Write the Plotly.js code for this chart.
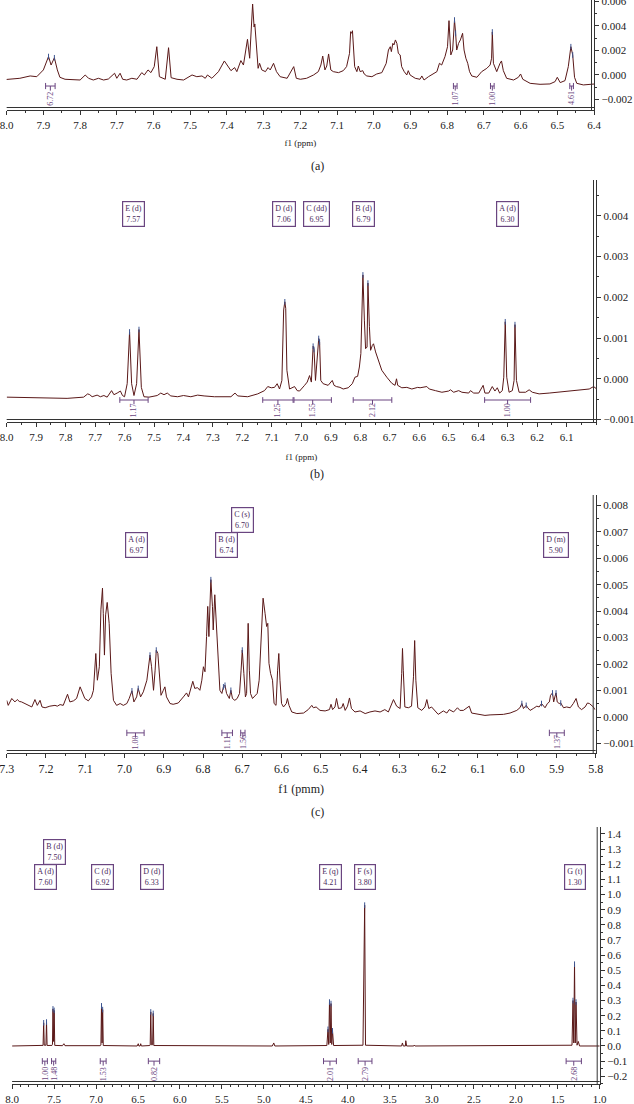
<!DOCTYPE html>
<html><head><meta charset="utf-8">
<script src="https://cdn.plot.ly/plotly-3.0.1.min.js"></script>
<style>html,body{margin:0;padding:0;background:#fff;}#chart{width:634px;height:1104px;}</style>
</head><body><div id="chart"></div>
<script>
// ---------- Panel (a) spectrum ----------
const ppmA=[8.018,7.964,7.936,7.918,7.900,7.886,7.879,7.870,7.862,7.855,7.841,7.800,7.786,7.777,7.764,7.750,7.736,7.723,7.706,7.700,7.691,7.684,7.673,7.659,7.645,7.632,7.625,7.615,7.607,7.598,7.591,7.584,7.568,7.559,7.552,7.536,7.518,7.495,7.482,7.468,7.459,7.453,7.441,7.423,7.407,7.400,7.389,7.379,7.373,7.362,7.355,7.344,7.338,7.330,7.326,7.324,7.320,7.315,7.311,7.305,7.295,7.288,7.282,7.273,7.265,7.255,7.236,7.218,7.211,7.200,7.183,7.164,7.151,7.144,7.139,7.133,7.128,7.123,7.117,7.110,7.096,7.083,7.074,7.066,7.063,7.060,7.058,7.055,7.052,7.046,7.042,7.037,7.030,7.026,7.019,7.005,6.992,6.978,6.966,6.960,6.955,6.952,6.948,6.945,6.941,6.937,6.933,6.928,6.924,6.917,6.910,6.906,6.901,6.887,6.874,6.869,6.863,6.851,6.842,6.828,6.821,6.815,6.806,6.799,6.795,6.790,6.785,6.780,6.777,6.774,6.769,6.764,6.758,6.754,6.749,6.744,6.739,6.733,6.719,6.706,6.692,6.683,6.679,6.677,6.674,6.665,6.656,6.652,6.647,6.638,6.619,6.606,6.600,6.594,6.574,6.547,6.520,6.506,6.500,6.492,6.479,6.470,6.463,6.458,6.453,6.447,6.429,6.415,6.397];
const intA=[-0.00041,-0.00027,-0.00008,-0.00014,0.00041,0.0015,0.00081,0.0014,0.00041,-0.00019,-0.00035,-0.00041,0.0,-0.00027,-0.00041,-0.00027,-0.00041,-0.00033,0.00014,-0.00027,0.00014,-0.00035,-0.00041,-0.00027,-0.00035,0.00019,0.0,0.00041,0.00019,0.00068,0.0023,-0.00014,-0.00035,0.00222,-0.00022,-0.00035,-0.00041,0.0,-0.00014,-0.00008,-0.00027,0.0,-0.00027,0.00027,0.00114,0.00081,0.00035,0.0006,0.00027,0.00117,0.00081,0.0029,0.00136,0.00577,0.0039,0.00415,0.00257,0.00054,0.00095,0.00041,0.00027,0.0006,0.00041,0.00095,0.00027,-0.00014,-0.00027,0.00068,-0.00027,-0.00035,-0.00027,0.0,0.00027,0.00081,0.00154,0.00041,0.00073,0.00171,0.00041,0.00027,0.00019,0.00035,0.00068,0.00176,0.00352,0.00339,0.0036,0.0023,0.00068,0.00027,0.00073,0.00027,0.00035,0.00008,-0.00008,-0.00014,0.00008,0.00019,0.00095,0.00203,0.0023,0.0019,0.00257,0.00244,0.00285,0.00257,0.00176,0.00163,0.00068,0.00027,0.0,0.00035,0.0,-0.00027,-0.00035,-0.00008,-0.00041,-0.00014,0.0,0.00027,0.00095,0.00081,0.00149,0.0023,0.00442,0.00163,0.00203,0.00447,0.00339,0.00203,0.00257,0.00285,0.00339,0.00203,0.00136,0.00095,0.00027,-0.00008,-0.00019,0.00027,0.00054,0.00081,0.00136,0.0035,0.00095,0.00027,0.00095,0.00114,0.00035,-0.00027,-0.00041,-0.00019,0.00008,-0.00035,-0.00068,-0.00076,-0.00073,-0.00054,-0.00019,-0.00062,-0.00046,0.00068,0.0023,0.00163,-0.00019,-0.00068,-0.00081,-0.00076,-0.00073];
const pickA_ppm=[7.886,7.870,6.780,6.777,6.677,6.463,6.458];
const pickA_top=[0.0015,0.0014,0.00447,0.00339,0.0035,0.0023,0.00163];
const integA_from=[7.894,6.783,6.682,6.466];
const integA_to=[7.868,6.773,6.672,6.456];
const integA_val=['6.72','1.07','1.00','4.61'];

// ---------- Panel (b) spectrum ----------
const ppmB=[8.000,7.909,7.795,7.739,7.725,7.718,7.710,7.693,7.682,7.670,7.659,7.644,7.636,7.625,7.614,7.607,7.600,7.591,7.583,7.576,7.568,7.559,7.551,7.543,7.534,7.517,7.489,7.477,7.466,7.455,7.443,7.420,7.400,7.375,7.352,7.330,7.295,7.239,7.225,7.216,7.182,7.148,7.125,7.114,7.102,7.091,7.082,7.074,7.066,7.060,7.056,7.053,7.049,7.040,7.028,7.023,7.014,7.006,6.989,6.980,6.972,6.966,6.960,6.957,6.952,6.945,6.941,6.938,6.934,6.926,6.909,6.895,6.889,6.881,6.869,6.858,6.841,6.827,6.818,6.809,6.803,6.798,6.793,6.791,6.786,6.782,6.777,6.774,6.769,6.765,6.759,6.755,6.748,6.739,6.727,6.710,6.693,6.682,6.677,6.673,6.659,6.642,6.625,6.605,6.597,6.574,6.566,6.545,6.523,6.500,6.494,6.483,6.466,6.455,6.432,6.426,6.415,6.398,6.383,6.377,6.364,6.352,6.343,6.335,6.327,6.318,6.313,6.308,6.303,6.295,6.284,6.278,6.275,6.270,6.261,6.239,6.227,6.216,6.193,6.159,6.136,6.091,6.057,6.023,6.008,5.994];
const intB=[-0.00045,-0.00047,-0.00048,-0.00045,-0.00037,-0.00039,-0.00044,-0.0004,-0.00044,-0.00041,-0.00045,-0.00029,-0.00039,-0.00035,-0.0003,-0.00041,-0.00044,-0.00012,0.00115,-0.00012,-0.00041,-0.00012,0.00121,-0.00021,-0.00044,-0.00045,-0.00041,-0.00035,-0.00039,-0.00035,-0.00042,-0.00044,-0.00041,-0.00044,-0.0004,-0.00042,-0.00044,-0.00044,-0.00035,-0.00042,-0.00044,-0.00037,-0.00029,-0.00019,-0.00022,-0.00021,-0.00012,-0.00025,-0.00004,0.00169,0.00189,0.00173,0.00021,-0.00025,-0.00022,-0.00019,-0.00029,-0.0003,-0.00016,-0.00008,0.00008,-0.00008,0.0008,0.00072,-0.00004,0.00062,0.00099,0.0009,-0.00004,-0.00012,-0.00016,-0.00004,-0.00016,-0.00019,-0.00021,-0.00025,-0.00022,-0.00012,0.00004,0.00006,0.00029,0.00062,0.00185,0.00255,0.00144,0.00074,0.00078,0.00235,0.00128,0.0007,0.00082,0.00086,0.00066,0.00045,0.00021,0.00004,-0.00011,-0.00016,0.0,-0.00016,-0.00022,-0.00021,-0.00025,-0.00021,-0.00022,-0.00019,-0.00025,-0.00029,-0.00033,-0.0003,-0.00027,-0.00033,-0.00029,-0.00033,-0.00035,-0.00029,-0.00035,-0.00035,-0.00016,-0.00035,-0.00035,-0.00019,-0.0003,-0.00022,-0.00035,-0.00029,0.00004,0.0014,0.00004,-0.00033,-0.00029,-0.00004,0.00133,-0.00004,-0.00033,-0.00033,-0.00027,-0.00033,-0.00037,-0.00035,-0.00033,-0.0003,-0.00027,-0.00025,-0.00019,-0.00027];
const pickB_ppm=[7.583,7.551,7.056,6.960,6.957,6.941,6.938,6.791,6.774,6.308,6.275];
const pickB_top=[0.00115,0.00121,0.00189,0.0008,0.00072,0.00099,0.0009,0.00255,0.00235,0.0014,0.00133];
const xTickB=[8.0,7.9,7.8,7.7,7.6,7.5,7.4,7.3,7.2,7.1,7.0,6.9,6.8,6.7,6.6,6.5,6.4,6.3,6.2,6.1];
const integB_from=[7.616,7.131,7.025,6.824,6.378];
const integB_to=[7.520,7.028,6.898,6.693,6.222];
const integB_val=['1.17','1.25','1.55','2.12','1.00'];
const boxB_name=['E (d)','D (d)','C (dd)','B (d)','A (d)'];
const boxB_ppm=[7.57,7.06,6.95,6.79,6.30];

// ---------- Panel (c) spectrum ----------
const ppmC=[7.300,7.296,7.287,7.279,7.273,7.268,7.262,7.253,7.245,7.236,7.228,7.222,7.215,7.210,7.202,7.190,7.177,7.171,7.164,7.156,7.145,7.139,7.130,7.122,7.113,7.107,7.101,7.092,7.084,7.079,7.073,7.069,7.064,7.060,7.056,7.054,7.051,7.048,7.044,7.039,7.034,7.028,7.020,7.011,7.003,6.994,6.988,6.981,6.976,6.969,6.965,6.959,6.952,6.943,6.938,6.935,6.931,6.926,6.922,6.919,6.915,6.912,6.907,6.901,6.897,6.893,6.884,6.876,6.863,6.850,6.842,6.837,6.831,6.826,6.821,6.814,6.808,6.803,6.799,6.795,6.791,6.788,6.785,6.781,6.780,6.776,6.774,6.770,6.767,6.763,6.760,6.757,6.752,6.748,6.744,6.740,6.733,6.729,6.725,6.719,6.713,6.707,6.703,6.700,6.696,6.692,6.689,6.685,6.682,6.679,6.674,6.668,6.662,6.657,6.652,6.647,6.642,6.638,6.635,6.632,6.628,6.623,6.619,6.614,6.610,6.607,6.604,6.600,6.595,6.588,6.585,6.581,6.574,6.561,6.544,6.532,6.523,6.519,6.512,6.502,6.489,6.478,6.474,6.470,6.464,6.460,6.455,6.447,6.443,6.438,6.432,6.427,6.422,6.413,6.400,6.387,6.375,6.362,6.349,6.337,6.328,6.322,6.315,6.307,6.298,6.294,6.292,6.290,6.286,6.277,6.269,6.264,6.261,6.258,6.253,6.243,6.235,6.230,6.225,6.218,6.209,6.201,6.188,6.179,6.173,6.162,6.152,6.146,6.137,6.129,6.122,6.116,6.107,6.095,6.082,6.069,6.052,6.035,6.018,6.001,5.993,5.988,5.984,5.977,5.973,5.967,5.959,5.950,5.944,5.938,5.929,5.923,5.918,5.915,5.910,5.907,5.904,5.901,5.898,5.893,5.889,5.882,5.874,5.865,5.857,5.850,5.844,5.836,5.827,5.821,5.816,5.810,5.806,5.802];
const intC=[0.00063,0.00044,0.0007,0.00057,0.00066,0.00059,0.00057,0.00051,0.00044,0.00038,0.00066,0.00044,0.00063,0.00038,0.00035,0.00041,0.00044,0.00041,0.00047,0.00044,0.00086,0.00057,0.00061,0.0007,0.00114,0.00095,0.0007,0.00061,0.00076,0.00101,0.0024,0.00139,0.0019,0.00405,0.00487,0.00392,0.00234,0.00386,0.00433,0.00354,0.00165,0.00063,0.00044,0.00051,0.00044,0.00051,0.0007,0.00099,0.00057,0.00076,0.00108,0.00076,0.00095,0.00139,0.00196,0.00234,0.0019,0.00101,0.00177,0.00253,0.0024,0.00177,0.00082,0.00101,0.00114,0.00076,0.00051,0.00048,0.00053,0.00076,0.00091,0.00076,0.00108,0.00135,0.00108,0.00111,0.00101,0.00139,0.0019,0.00171,0.00304,0.00418,0.00304,0.00487,0.00519,0.00418,0.00329,0.00462,0.0038,0.00278,0.00165,0.00101,0.00089,0.00114,0.0012,0.00089,0.0007,0.00101,0.0007,0.00063,0.0007,0.00089,0.00177,0.00253,0.00165,0.00076,0.00089,0.00354,0.00177,0.00089,0.0007,0.00078,0.00089,0.00139,0.00304,0.00449,0.00392,0.00342,0.00354,0.00203,0.00165,0.00139,0.00051,0.00044,0.00177,0.0024,0.00139,0.00051,0.00038,0.00051,0.0007,0.00044,0.00019,0.00013,0.00015,0.00028,0.00044,0.00035,0.00038,0.00025,0.00023,0.00028,0.00048,0.00028,0.00038,0.0007,0.00032,0.00035,0.00051,0.00025,0.00041,0.00072,0.00032,0.00019,0.00023,0.00013,0.00019,0.00023,0.00019,0.00028,0.00019,0.00038,0.00066,0.00041,0.00032,0.00165,0.00259,0.00177,0.00038,0.00035,0.00041,0.00152,0.00289,0.00139,0.00035,0.00025,0.00038,0.00066,0.00032,0.00038,0.00025,0.0001,0.00023,0.00015,0.00028,0.00019,0.00035,0.00025,0.00025,0.00032,0.00041,0.00015,0.00013,0.0001,0.00006,0.00008,0.0001,0.0001,0.00015,0.00025,0.00035,0.00051,0.00032,0.00044,0.00035,0.00025,0.00032,0.00041,0.00038,0.00051,0.00035,0.00051,0.00057,0.00082,0.00091,0.00057,0.00076,0.00091,0.00057,0.00051,0.00053,0.00035,0.00038,0.00035,0.00051,0.0007,0.00038,0.00028,0.00038,0.00053,0.00051,0.00044,0.00038,0.00028];
const pickC_ppm=[6.981,6.965,6.935,6.919,6.780,6.748,6.744,6.729,6.700,5.988,5.977,5.938,5.910,5.901,5.889];
const pickC_top=[0.00099,0.00108,0.00234,0.00253,0.00519,0.00114,0.0012,0.00101,0.00253,0.00051,0.00044,0.00051,0.00091,0.00091,0.00053];
const integC_from=[6.994,6.752,6.704,5.918];
const integC_to=[6.950,6.725,6.693,5.880];
const integC_val=['1.00','1.11','1.56','1.37'];
const boxC_name=['A (d)','B (d)','C (s)','D (m)'];
const boxC_ppm=[6.97,6.74,6.70,5.90];

// ---------- Panel (d) spectrum ----------
const ppmD=[8.00,7.70,7.64,7.631,7.624,7.617,7.597,7.590,7.583,7.525,7.519,7.513,7.506,7.499,7.492,7.40,7.383,7.37,6.95,6.942,6.935,6.928,6.921,6.914,6.51,6.497,6.49,6.475,6.468,6.46,6.36,6.355,6.348,6.341,6.326,6.319,6.312,4.90,4.883,4.87,4.25,4.237,4.228,4.219,4.210,4.201,4.192,4.183,4.17,3.82,3.80,3.79,3.36,3.35,3.34,3.315,3.31,3.30,3.215,3.21,3.20,1.33,1.318,1.309,1.300,1.291,1.282,1.27,1.255,1.24,1.00];
const intD=[0.0,0.0,0.003,0.004,0.153,0.005,0.005,0.158,0.003,0.004,0.01,0.245,0.03,0.235,0.004,0.002,0.015,0.002,0.002,0.006,0.265,0.02,0.24,0.003,0.0,0.015,0.0,0.0,0.015,0.0,0.003,0.006,0.225,0.008,0.008,0.215,0.003,0.0,0.02,0.0,0.003,0.11,0.01,0.29,0.02,0.28,0.01,0.10,0.003,0.005,0.93,0.005,0.0,0.02,0.0,0.0,0.035,0.0,0.0,0.006,0.0,0.005,0.30,0.02,0.54,0.02,0.29,0.005,0.03,0.0,0.0];
const pickD_ppm=[7.624,7.590,7.513,7.499,6.935,6.921,6.348,6.319,4.237,4.219,4.201,4.183,3.80,1.318,1.300,1.282];
const pickD_top=[0.153,0.158,0.245,0.235,0.265,0.24,0.225,0.215,0.11,0.29,0.28,0.10,0.93,0.30,0.54,0.29];
const integD_from=[7.64,7.53,6.95,6.377,4.29,3.877,1.40];
const integD_to=[7.58,7.48,6.88,6.242,4.137,3.713,1.218];
const integD_val=['1.00','1.48','1.53','0.82','2.01','2.79','2.68'];
const boxD_name=['A (d)','B (d)','C (d)','D (d)','E (q)','F (s)','G (t)'];
const boxD_ppm=[7.60,7.50,6.92,6.33,4.21,3.80,1.30];

// ---------- styling / layout helpers ----------
const FONT='"Liberation Serif","DejaVu Serif",serif';
const LINE='#5a1818';
const PURPLE='#6a4580';
const PICK='#3d5590';
const AX='#333333';
const W=634,H=1104;
const fx=p=>p/W;
const fy=p=>1-p/H;

function spectrum(x,y,xa,ya){
  return {x:x,y:y,xaxis:xa,yaxis:ya,type:'scatter',mode:'lines',line:{color:LINE,width:1},hoverinfo:'skip',showlegend:false};
}
function picks(x,y,xa,ya){
  return {x:x,y:y,xaxis:xa,yaxis:ya,type:'scatter',mode:'markers',hoverinfo:'skip',showlegend:false,
    marker:{symbol:'line-ns',size:4,line:{color:PICK,width:1}}};
}
function brackets(from,to,yb,cap,xa,ya){
  const xs=[],ys=[];
  for(let i=0;i<from.length;i++){
    const m=(from[i]+to[i])/2;
    xs.push(from[i],from[i],null,to[i],to[i],null,from[i],to[i],null,m,m,null);
    ys.push(yb-cap,yb+cap,null,yb-cap,yb+cap,null,yb,yb,null,yb,yb-cap*1.5,null);
  }
  return {x:xs,y:ys,xaxis:xa,yaxis:ya,type:'scatter',mode:'lines',line:{color:PURPLE,width:1},hoverinfo:'skip',showlegend:false};
}
function intLabels(from,to,vals,yl,xr,yr){
  return vals.map((v,i)=>({x:(from[i]+to[i])/2,y:yl,xref:xr,yref:yr,text:v,textangle:-90,showarrow:false,
    xanchor:'center',yanchor:'middle',font:{family:FONT,size:8,color:PURPLE}}));
}
function boxes(names,ppms,yb,yRaised,raised,xr,yr){
  return names.map((n,i)=>({x:ppms[i],y:raised.indexOf(n)>=0?yRaised:yb,xref:xr,yref:yr,
    text:n+'<br>'+ppms[i].toFixed(2),showarrow:false,align:'center',
    font:{family:FONT,size:8,color:'#4a2a5c'},bordercolor:PURPLE,borderwidth:1.2,borderpad:2,bgcolor:'#ffffff'}));
}
function xAxis(range,d0,d1,anchor,dtick,minorD,fs,title,tfs,standoff,extra){
  return Object.assign({range:range,domain:[fx(d0),fx(d1)],anchor:anchor,showline:true,linecolor:AX,linewidth:1.3,
    ticks:'outside',ticklen:4,tickwidth:1,tickcolor:AX,dtick:dtick,tick0:0,tickformat:'.1f',ticklabeloverflow:'allow',
    tickfont:{family:FONT,size:fs,color:'#222'},
    minor:{dtick:minorD,tick0:0,ticks:'outside',ticklen:2,tickcolor:AX},
    showgrid:false,zeroline:false,fixedrange:true,
    title:{text:title,font:{family:FONT,size:tfs,color:'#222'},standoff:standoff}},extra||{});
}
function yAxis(range,p0,p1,anchor,dtick,minorD,fmt){
  return {range:range,domain:[fy(p1),fy(p0)],anchor:anchor,side:'right',showline:true,linecolor:AX,linewidth:1.3,
    ticks:'outside',ticklen:4,tickwidth:1,tickcolor:AX,dtick:dtick,tick0:0,tickformat:fmt,ticklabeloverflow:'allow',
    tickfont:{family:FONT,size:11,color:'#222'},
    minor:{dtick:minorD,tick0:0,ticks:'outside',ticklen:2,tickcolor:AX},
    showgrid:false,zeroline:false,fixedrange:true};
}
// inner companion line that gives the axes their double-rule look (page pixels)
function doubleRule(xl,xr,yt,yb){
  return [
    {type:'line',xref:'paper',yref:'paper',x0:fx(xl),x1:fx(xr),y0:fy(yb-2.5),y1:fy(yb-2.5),line:{color:AX,width:1}},
    {type:'line',xref:'paper',yref:'paper',x0:fx(xr-2.5),x1:fx(xr-2.5),y0:fy(yb),y1:fy(yt),line:{color:AX,width:1}}
  ];
}

const data=[
  spectrum(ppmA,intA,'x','y'),
  picks(pickA_ppm,pickA_top,'x','y'),
  brackets(integA_from,integA_to,-0.0009,0.00025,'x','y'),
  spectrum(ppmB,intB,'x2','y2'),
  picks(pickB_ppm,pickB_top,'x2','y2'),
  brackets(integB_from,integB_to,-0.00052,0.00007,'x2','y2'),
  spectrum(ppmC,intC,'x3','y3'),
  picks(pickC_ppm,pickC_top,'x3','y3'),
  brackets(integC_from,integC_to,-0.0006,0.00012,'x3','y3'),
  spectrum(ppmD,intD,'x4','y4'),
  picks(pickD_ppm,pickD_top,'x4','y4'),
  brackets(integD_from,integD_to,-0.10,0.02,'x4','y4')
];

const panelLbl=(t,p)=>({text:t,x:0.5,y:fy(p),xref:'paper',yref:'paper',xanchor:'center',yanchor:'middle',showarrow:false,font:{family:FONT,size:12,color:'#222'}});
const annotations=[].concat(
  intLabels(integA_from,integA_to,integA_val,-0.0019,'x','y'),
  intLabels(integB_from,integB_to,integB_val,-0.00078,'x2','y2'),
  intLabels(integC_from,integC_to,integC_val,-0.00095,'x3','y3'),
  intLabels(integD_from,integD_to,integD_val,-0.185,'x4','y4'),
  boxes(boxB_name,boxB_ppm,0.00405,0.00405,[],'x2','y2'),
  boxes(boxC_name,boxC_ppm,0.0065,0.00746,['C (s)'],'x3','y3'),
  boxes(boxD_name,boxD_ppm,1.114,1.278,['B (d)'],'x4','y4'),
  [panelLbl('(a)',166),panelLbl('(b)',474),panelLbl('(c)',812)]
);

const shapes=[].concat(
  doubleRule(6.67,594,0,110),
  doubleRule(6.67,596,180,422),
  doubleRule(6.67,595.7,495,753),
  doubleRule(12.1,599.7,827,1084)
);

const layout={
  width:W,height:H,margin:{l:0,r:0,t:0,b:0},paper_bgcolor:'#fff',plot_bgcolor:'#fff',showlegend:false,
  font:{family:FONT,color:'#222'},
  xaxis: xAxis([8.0,6.4],6.67,594,'y',0.1,0.05,11,'f1 (ppm)',9,10),
  yaxis: yAxis([-0.00285,0.0061],0,110,'x',0.002,0.001,'.3f'),
  xaxis2:xAxis([8.0,6.0],6.67,596,'y2',0.1,0.05,11,'f1 (ppm)',9,12,{tickmode:'array',tickvals:xTickB}),
  yaxis2:yAxis([-0.00106,0.00488],180,422,'x2',0.001,0.0005,'.3f'),
  xaxis3:xAxis([7.3,5.8],6.67,595.7,'y3',0.1,0.05,12,'f1 (pmm)',12,10),
  yaxis3:yAxis([-0.00136,0.00839],495,753,'x3',0.001,0.0005,'.3f'),
  xaxis4:xAxis([8.0,1.0],12.1,599.7,'y4',0.5,0.1,11,'',9,10),
  yaxis4:yAxis([-0.251,1.446],827,1084,'x4',0.1,0.05,'.1f'),
  shapes:shapes,
  annotations:annotations
};

Plotly.newPlot('chart',data,layout,{staticPlot:true,displayModeBar:false});
</script>
</body></html>
